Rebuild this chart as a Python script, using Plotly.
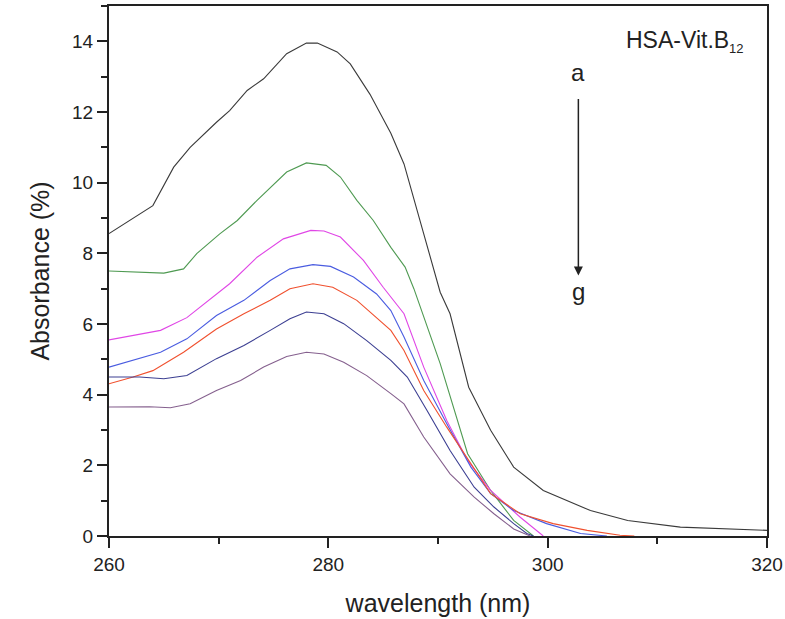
import plotly.graph_objects as go

# Data (wavelength nm, absorbance %)
wl_a = [260, 264.0, 265.9, 267.4, 269.8, 271.0, 272.6, 274.1, 276.2, 278.0, 279.0, 280.8, 282.0, 283.8, 285.7, 286.9, 288.7, 290.2, 291.1, 292.8, 294.8, 296.9, 299.6, 303.9, 307.3, 312.1, 320]
abs_a = [8.56, 9.35, 10.44, 11.0, 11.71, 12.04, 12.61, 12.94, 13.65, 13.95, 13.95, 13.7, 13.36, 12.5, 11.4, 10.53, 8.55, 6.9, 6.29, 4.21, 2.99, 1.95, 1.29, 0.72, 0.44, 0.25, 0.16]

wl_b = [260, 262.8, 265.0, 266.8, 268.0, 270.1, 271.7, 273.5, 276.2, 278.0, 279.8, 281.1, 282.6, 284.1, 285.7, 287.0, 287.8, 290.2, 292.7, 294.8, 296.9, 298.7]
abs_b = [7.5, 7.47, 7.44, 7.56, 7.99, 8.55, 8.93, 9.5, 10.3, 10.56, 10.49, 10.16, 9.5, 8.93, 8.17, 7.61, 7.0, 4.88, 2.33, 1.29, 0.44, 0.0]

wl_c = [260, 264.7, 267.1, 269.8, 271.0, 273.5, 275.9, 278.4, 279.6, 281.1, 283.2, 285.0, 286.9, 288.7, 290.8, 292.7, 294.8, 297.5, 299.6]
abs_c = [5.55, 5.82, 6.18, 6.85, 7.14, 7.89, 8.41, 8.65, 8.63, 8.46, 7.8, 7.04, 6.29, 4.78, 3.27, 2.14, 1.29, 0.53, 0.0]

wl_d = [260, 262.8, 264.7, 267.1, 269.8, 272.3, 274.7, 276.5, 278.6, 280.2, 282.3, 284.4, 285.7, 286.9, 288.7, 290.8, 293.0, 294.8, 296.9, 299.9, 303.0, 305.4]
abs_d = [4.78, 5.02, 5.2, 5.58, 6.24, 6.67, 7.23, 7.56, 7.68, 7.63, 7.33, 6.85, 6.38, 5.63, 4.4, 3.18, 1.95, 1.2, 0.72, 0.35, 0.07, 0.0]

wl_e = [260, 262.2, 264.0, 266.8, 269.8, 272.3, 274.7, 276.5, 278.6, 280.4, 282.6, 284.4, 285.7, 286.9, 288.7, 290.8, 293.0, 294.8, 297.5, 300.5, 303.6, 306.6, 307.9]
abs_e = [4.31, 4.5, 4.68, 5.2, 5.86, 6.29, 6.67, 7.0, 7.14, 7.04, 6.67, 6.19, 5.82, 5.25, 4.12, 3.08, 2.04, 1.2, 0.63, 0.35, 0.16, 0.02, 0.0]

wl_f = [260, 262.8, 265.0, 267.1, 269.8, 272.3, 274.7, 276.5, 278.0, 279.6, 281.4, 283.5, 285.7, 287.2, 289.0, 291.1, 293.3, 295.1, 296.9, 298.1, 298.7]
abs_f = [4.5, 4.5, 4.45, 4.54, 5.02, 5.39, 5.82, 6.15, 6.34, 6.29, 6.01, 5.53, 4.97, 4.5, 3.55, 2.42, 1.38, 0.82, 0.35, 0.07, 0.0]

wl_g = [260, 263.7, 265.6, 267.4, 269.8, 272.0, 274.1, 276.2, 278.0, 279.6, 281.4, 283.5, 285.7, 286.9, 288.7, 291.1, 293.3, 295.1, 296.9, 298.4]
abs_g = [3.65, 3.66, 3.63, 3.74, 4.12, 4.4, 4.78, 5.08, 5.2, 5.15, 4.92, 4.54, 4.03, 3.74, 2.8, 1.76, 1.1, 0.63, 0.2, 0.0]

series = [
    ("a", wl_a, abs_a, "#3a3a3a"),
    ("b", wl_b, abs_b, "#4f9a52"),
    ("c", wl_c, abs_c, "#e046e6"),
    ("d", wl_d, abs_d, "#4a5ce0"),
    ("e", wl_e, abs_e, "#f0502e"),
    ("f", wl_f, abs_f, "#3c3f92"),
    ("g", wl_g, abs_g, "#85608e"),
]

x_ticks = [260, 280, 300, 320]
y_ticks = [0, 2, 4, 6, 8, 10, 12, 14]

fig = go.Figure()
for name, xs, ys, col in series:
    fig.add_trace(go.Scatter(x=xs, y=ys, mode="lines", name=name,
                             line=dict(color=col, width=1.1), showlegend=False))

font = "Liberation Sans, Arial, sans-serif"
fig.update_layout(
    width=785, height=619,
    margin=dict(l=109, r=18, t=6, b=83),
    paper_bgcolor="white", plot_bgcolor="white",
    font=dict(family=font, color="#222", size=19),
)
fig.update_xaxes(
    range=[260, 320], tickvals=x_ticks, ticks="outside", ticklen=10, tickwidth=1.5,
    tickcolor="#222", showline=True, linecolor="#222", linewidth=2, mirror=True,
    showgrid=False, zeroline=False, tickfont=dict(size=19), automargin=False,
    minor=dict(dtick=10, ticks="outside", ticklen=6, tickcolor="#222", showgrid=False),
    title=dict(text="wavelength (nm)", font=dict(size=25), standoff=21),
)
fig.update_yaxes(
    range=[0, 15], tickvals=y_ticks, ticks="outside", ticklen=10, tickwidth=1.5,
    tickcolor="#222", showline=True, linecolor="#222", linewidth=2, mirror=True,
    showgrid=False, zeroline=False, tickfont=dict(size=19), automargin=False,
    minor=dict(dtick=1, ticks="outside", ticklen=6, tickcolor="#222", showgrid=False),
    title=dict(text="Absorbance (%)", font=dict(size=25), standoff=15),
)

fig.add_annotation(x=318.1, y=14.0, xref="x", yref="y",
                   text="HSA-Vit.B<sub><span style='font-size:13px'>12</span></sub>",
                   showarrow=False, xanchor="right", yanchor="middle",
                   font=dict(size=23, family=font, color="#222"))
fig.add_annotation(x=302.8, y=13.12, xref="x", yref="y", text="a", showarrow=False,
                   font=dict(size=24, family=font, color="#222"))
fig.add_annotation(x=302.8, y=6.92, xref="x", yref="y", text="g", showarrow=False,
                   font=dict(size=24, family=font, color="#222"))
fig.add_annotation(x=302.8, y=7.37, ax=302.8, ay=12.41, xref="x", yref="y",
                   axref="x", ayref="y", text="", showarrow=True,
                   arrowhead=2, arrowsize=1.2, arrowwidth=1.5, arrowcolor="#222")

fig.write_html("out.html", config={"displayModeBar": False},
               post_script="document.body.style.margin='0';document.body.style.overflow='hidden';")
